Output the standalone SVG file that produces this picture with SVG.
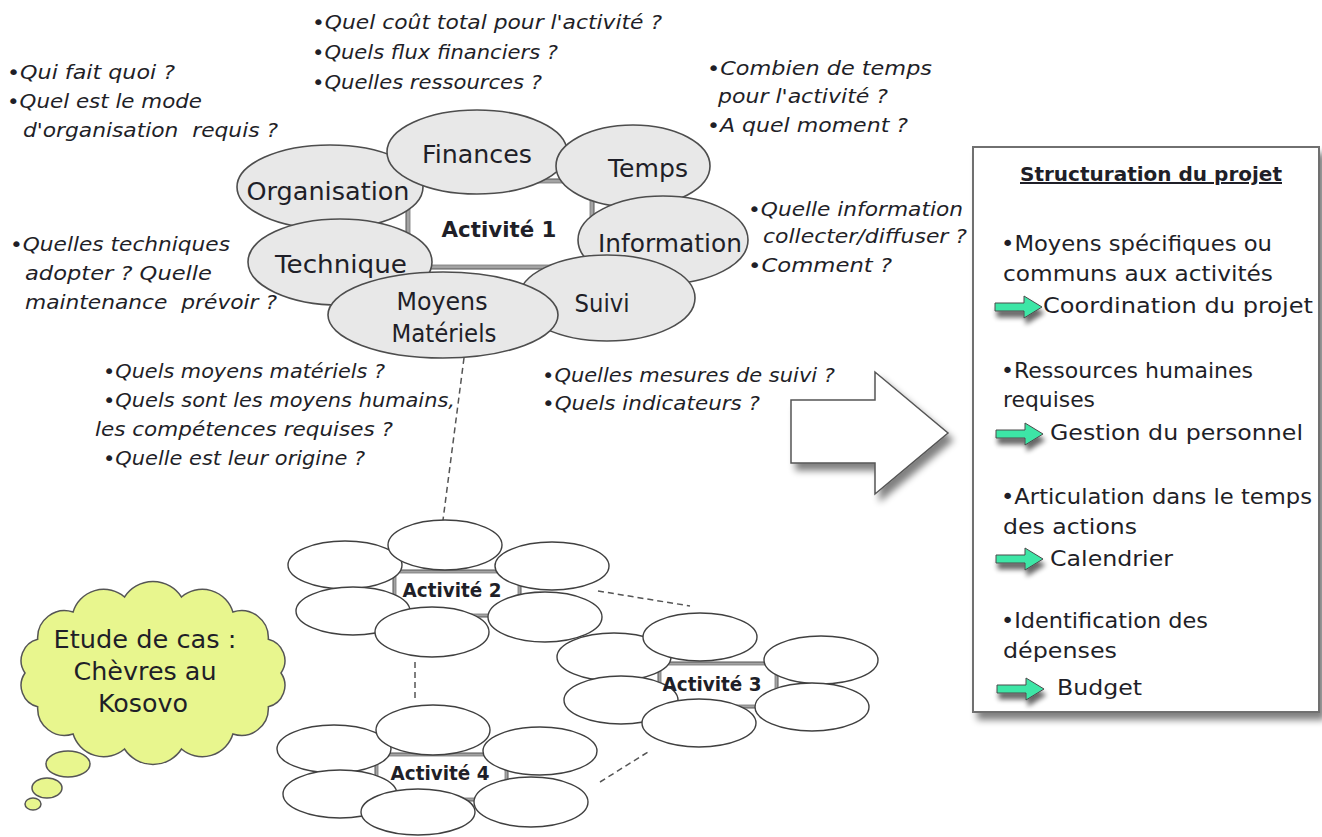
<svg xmlns="http://www.w3.org/2000/svg" width="1322" height="837" viewBox="0 0 1322 837">
<defs>
<filter id="sh" x="-20%" y="-20%" width="150%" height="160%">
<feGaussianBlur in="SourceAlpha" stdDeviation="3.5"/>
<feOffset dx="5" dy="7"/>
<feComponentTransfer><feFuncA type="linear" slope="0.5"/></feComponentTransfer>
<feMerge><feMergeNode/><feMergeNode in="SourceGraphic"/></feMerge>
</filter>
<filter id="sh2" x="-30%" y="-50%" width="180%" height="250%">
<feGaussianBlur in="SourceAlpha" stdDeviation="2.5"/>
<feOffset dx="2" dy="6"/>
<feComponentTransfer><feFuncA type="linear" slope="0.6"/></feComponentTransfer>
<feMerge><feMergeNode/><feMergeNode in="SourceGraphic"/></feMerge>
</filter>
<path id="gar" d="M0,-4 H29 V-11 L47,0 L29,11 V4 H0 Z"/>
</defs>
<style>
text{font-family:"DejaVu Sans","Liberation Sans",sans-serif;fill:#1f1f28}
.q{font-size:19px;font-style:italic}
.lbl{font-size:24px;text-anchor:middle}
.bub{fill:#e8e8e8;stroke:#4d4d4d;stroke-width:1.6}
.wb{fill:#fff;stroke:#404040;stroke-width:1.4}
.bev{fill:#a3a3a3;stroke:#555;stroke-width:1}
.inn{fill:#fff;stroke:#777;stroke-width:0.8}
.act{font-weight:bold;text-anchor:middle}
.dash{stroke:#555;stroke-width:1.5;stroke-dasharray:6 4;fill:none}
.box{font-size:22px}
.ga{fill:#3ee6a6;stroke:#4a4a4a;stroke-width:1}
</style>

<g id="connectors">
<line class="dash" x1="464" y1="358" x2="443" y2="520"/>
<line class="dash" x1="598" y1="591" x2="690" y2="606"/>
<line class="dash" x1="415" y1="662" x2="415" y2="700"/>
<line class="dash" x1="600" y1="782" x2="648" y2="752"/>
</g>

<g id="activite1">
<rect class="bev" x="406" y="179" width="188" height="90"/>
<rect class="inn" x="410" y="183" width="180" height="82"/>
<ellipse class="bub" cx="330" cy="187" rx="93" ry="42"/>
<ellipse class="bub" cx="477" cy="152" rx="90" ry="42"/>
<ellipse class="bub" cx="633" cy="166" rx="77" ry="41"/>
<ellipse class="bub" cx="663" cy="240" rx="85" ry="44"/>
<ellipse class="bub" cx="340" cy="262" rx="92" ry="43"/>
<ellipse class="bub" cx="607" cy="298" rx="88" ry="43"/>
<ellipse class="bub" cx="443" cy="315" rx="115" ry="43"/>
<text class="act" x="499" y="237" font-size="22" textLength="115" lengthAdjust="spacingAndGlyphs">Activité 1</text>
<text class="lbl" x="477" y="163" textLength="110" lengthAdjust="spacingAndGlyphs">Finances</text>
<text class="lbl" x="328" y="200" textLength="163" lengthAdjust="spacingAndGlyphs">Organisation</text>
<text class="lbl" x="648" y="177" textLength="80" lengthAdjust="spacingAndGlyphs">Temps</text>
<text class="lbl" x="670" y="252" textLength="144" lengthAdjust="spacingAndGlyphs">Information</text>
<text class="lbl" x="341" y="273" textLength="132" lengthAdjust="spacingAndGlyphs">Technique</text>
<text class="lbl" x="602" y="312" textLength="55" lengthAdjust="spacingAndGlyphs">Suivi</text>
<text class="lbl" x="442" y="310" textLength="91" lengthAdjust="spacingAndGlyphs">Moyens</text>
<text class="lbl" x="444" y="342" textLength="105" lengthAdjust="spacingAndGlyphs">Matériels</text>
</g>

<g id="questions-organisation">
<text class="q" x="7" y="79" textLength="168" lengthAdjust="spacingAndGlyphs">•Qui fait quoi ?</text>
<text class="q" x="7" y="108" textLength="195" lengthAdjust="spacingAndGlyphs">•Quel est le mode</text>
<text class="q" x="23" y="137" textLength="255" lengthAdjust="spacingAndGlyphs" xml:space="preserve">d'organisation  requis ?</text>
</g>
<g id="questions-finances">
<text class="q" x="312" y="29" textLength="350" lengthAdjust="spacingAndGlyphs">•Quel coût total pour l'activité ?</text>
<text class="q" x="312" y="59" textLength="246" lengthAdjust="spacingAndGlyphs">•Quels flux financiers ?</text>
<text class="q" x="312" y="89" textLength="230" lengthAdjust="spacingAndGlyphs">•Quelles ressources ?</text>
</g>
<g id="questions-temps">
<text class="q" x="707" y="75" textLength="225" lengthAdjust="spacingAndGlyphs">•Combien de temps</text>
<text class="q" x="718" y="103" textLength="170" lengthAdjust="spacingAndGlyphs">pour l'activité ?</text>
<text class="q" x="707" y="132" textLength="201" lengthAdjust="spacingAndGlyphs">•A quel moment ?</text>
</g>
<g id="questions-technique">
<text class="q" x="10" y="251" textLength="220" lengthAdjust="spacingAndGlyphs">•Quelles techniques</text>
<text class="q" x="25" y="280" textLength="187" lengthAdjust="spacingAndGlyphs">adopter ? Quelle</text>
<text class="q" x="25" y="309" textLength="252" lengthAdjust="spacingAndGlyphs" xml:space="preserve">maintenance  prévoir ?</text>
</g>
<g id="questions-information">
<text class="q" x="748" y="216" textLength="215" lengthAdjust="spacingAndGlyphs">•Quelle information</text>
<text class="q" x="763" y="243" textLength="204" lengthAdjust="spacingAndGlyphs">collecter/diffuser ?</text>
<text class="q" x="748" y="272" textLength="144" lengthAdjust="spacingAndGlyphs">•Comment ?</text>
</g>
<g id="questions-moyens">
<text class="q" x="103" y="378" textLength="282" lengthAdjust="spacingAndGlyphs">•Quels moyens matériels ?</text>
<text class="q" x="103" y="407" textLength="352" lengthAdjust="spacingAndGlyphs">•Quels sont les moyens humains,</text>
<text class="q" x="95" y="436" textLength="298" lengthAdjust="spacingAndGlyphs">les compétences requises ?</text>
<text class="q" x="103" y="465" textLength="262" lengthAdjust="spacingAndGlyphs">•Quelle est leur origine ?</text>
</g>
<g id="questions-suivi">
<text class="q" x="542" y="382" textLength="293" lengthAdjust="spacingAndGlyphs">•Quelles mesures de suivi ?</text>
<text class="q" x="542" y="410" textLength="218" lengthAdjust="spacingAndGlyphs">•Quels indicateurs ?</text>
</g>

<g id="grande-fleche">
<polygon points="791,400 875,400 875,372 948,433 875,494 875,463 791,463" fill="#fff" stroke="#555" stroke-width="1.5" filter="url(#sh)"/>
</g>

<g id="structuration">
<rect x="973" y="147" width="346" height="565" fill="#fff" stroke="#707070" stroke-width="2" filter="url(#sh)"/>
<text x="1151" y="181" font-size="20" font-weight="bold" text-anchor="middle" text-decoration="underline" textLength="262" lengthAdjust="spacingAndGlyphs">Structuration du projet</text>
<text class="box" x="1001" y="251" textLength="271" lengthAdjust="spacingAndGlyphs">•Moyens spécifiques ou</text>
<text class="box" x="1003" y="281" textLength="270" lengthAdjust="spacingAndGlyphs">communs aux activités</text>
<use href="#gar" class="ga" x="995" y="307" filter="url(#sh2)"/>
<text class="box" x="1043" y="313" textLength="270" lengthAdjust="spacingAndGlyphs">Coordination du projet</text>
<text class="box" x="1001" y="378" textLength="252" lengthAdjust="spacingAndGlyphs">•Ressources humaines</text>
<text class="box" x="1003" y="407" textLength="92" lengthAdjust="spacingAndGlyphs">requises</text>
<use href="#gar" class="ga" x="996" y="434" filter="url(#sh2)"/>
<text class="box" x="1050" y="440" textLength="253" lengthAdjust="spacingAndGlyphs">Gestion du personnel</text>
<text class="box" x="1001" y="504" textLength="311" lengthAdjust="spacingAndGlyphs">•Articulation dans le temps</text>
<text class="box" x="1003" y="534" textLength="134" lengthAdjust="spacingAndGlyphs">des actions</text>
<use href="#gar" class="ga" x="996" y="559" filter="url(#sh2)"/>
<text class="box" x="1050" y="566" textLength="123" lengthAdjust="spacingAndGlyphs">Calendrier</text>
<text class="box" x="1001" y="628" textLength="207" lengthAdjust="spacingAndGlyphs">•Identification des</text>
<text class="box" x="1003" y="658" textLength="114" lengthAdjust="spacingAndGlyphs">dépenses</text>
<use href="#gar" class="ga" x="997" y="689" filter="url(#sh2)"/>
<text class="box" x="1057" y="695" textLength="85" lengthAdjust="spacingAndGlyphs">Budget</text>
</g>

<g id="activite2">
<rect class="bev" x="393" y="570" width="128" height="47"/>
<rect class="inn" x="396" y="573" width="122" height="41"/>
<ellipse class="wb" cx="345" cy="565" rx="57" ry="24"/>
<ellipse class="wb" cx="552" cy="566" rx="57" ry="24"/>
<ellipse class="wb" cx="445" cy="545" rx="57" ry="25"/>
<ellipse class="wb" cx="353" cy="611" rx="57" ry="24"/>
<ellipse class="wb" cx="545" cy="617" rx="57" ry="25"/>
<ellipse class="wb" cx="432" cy="632" rx="57" ry="25"/>
<text class="act" x="452" y="597" font-size="19" textLength="99" lengthAdjust="spacingAndGlyphs">Activité 2</text>
</g>

<g id="activite3">
<rect class="bev" x="658" y="662" width="120" height="46"/>
<rect class="inn" x="661" y="665" width="114" height="40"/>
<ellipse class="wb" cx="614" cy="657" rx="57" ry="24"/>
<ellipse class="wb" cx="821" cy="660" rx="57" ry="24"/>
<ellipse class="wb" cx="700" cy="637" rx="57" ry="24"/>
<ellipse class="wb" cx="621" cy="700" rx="57" ry="24"/>
<ellipse class="wb" cx="812" cy="707" rx="57" ry="24"/>
<ellipse class="wb" cx="699" cy="723" rx="57" ry="24"/>
<text class="act" x="712" y="691" font-size="19" textLength="99" lengthAdjust="spacingAndGlyphs">Activité 3</text>
</g>

<g id="activite4">
<rect class="bev" x="375" y="753" width="133" height="48"/>
<rect class="inn" x="378" y="756" width="127" height="42"/>
<ellipse class="wb" cx="334" cy="749" rx="57" ry="24"/>
<ellipse class="wb" cx="540" cy="751" rx="57" ry="24"/>
<ellipse class="wb" cx="433" cy="730" rx="57" ry="25"/>
<ellipse class="wb" cx="340" cy="794" rx="57" ry="24"/>
<ellipse class="wb" cx="531" cy="802" rx="57" ry="25"/>
<ellipse class="wb" cx="418" cy="812" rx="57" ry="23"/>
<text class="act" x="440" y="780" font-size="19" textLength="99" lengthAdjust="spacingAndGlyphs">Activité 4</text>
</g>

<g id="etude-de-cas">
<path d="M25,673 A22,22 0 0 1 37.7,639.2 A27,27 0 0 1 73.1,612 A32,32 0 0 1 124.5,597 A34,34 0 0 1 181.5,597 A32,32 0 0 1 232.9,612 A27,27 0 0 1 268.3,639.2 A22,22 0 0 1 281,673 A22,22 0 0 1 268.3,706.8 A27,27 0 0 1 232.9,734 A32,32 0 0 1 181.5,749 A34,34 0 0 1 124.5,749 A32,32 0 0 1 73.1,734 A27,27 0 0 1 37.7,706.8 A22,22 0 0 1 25,673 Z" fill="#e8f68e" stroke="#555" stroke-width="1.5"/>
<ellipse cx="68" cy="764" rx="22" ry="13" fill="#e8f68e" stroke="#555" stroke-width="1.5"/>
<ellipse cx="47" cy="788" rx="15" ry="10" fill="#e8f68e" stroke="#555" stroke-width="1.5"/>
<ellipse cx="33" cy="804" rx="8" ry="6" fill="#e8f68e" stroke="#555" stroke-width="1.5"/>
<text x="145" y="648" font-size="24" text-anchor="middle" textLength="183" lengthAdjust="spacingAndGlyphs">Etude de cas :</text>
<text x="145" y="680" font-size="24" text-anchor="middle" textLength="143" lengthAdjust="spacingAndGlyphs">Chèvres au</text>
<text x="143" y="712" font-size="24" text-anchor="middle" textLength="90" lengthAdjust="spacingAndGlyphs">Kosovo</text>
</g>
</svg>
